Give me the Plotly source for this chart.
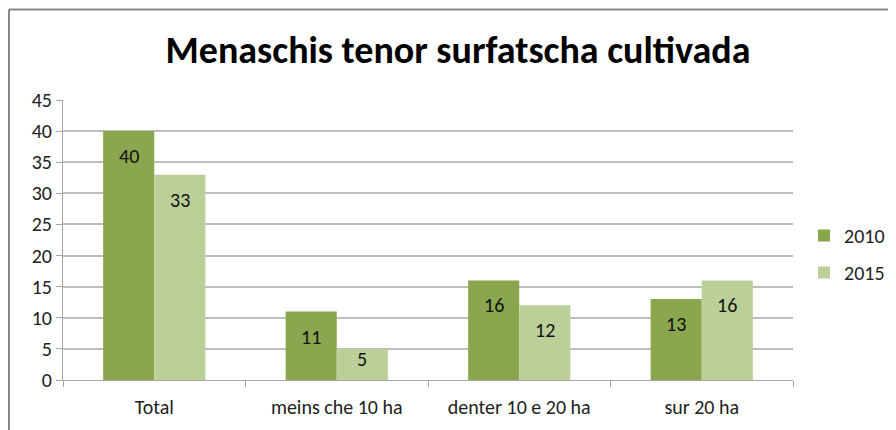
import plotly.graph_objects as go

categories = ["Total", "meins che 10 ha", "denter 10 e 20 ha", "sur 20 ha"]
series_names = ["2010", "2015"]
values_2010 = [40, 11, 16, 13]
values_2015 = [33, 5, 12, 16]
y_ticks = [0, 5, 10, 15, 20, 25, 30, 35, 40, 45]

colors = ["#8AA64F", "#BBD098"]
FONT = "Carlito, Lato, Liberation Sans, sans-serif"

# page body adds an 8px margin, so the figure is sized to the visible area
W, H = 888, 422
L, T = 55, 92
R, B = W - 785, H - 372
PW, PH = W - L - R, H - T - B
YMAX = 45

def px_x(px):
    return (px - L) / PW

def px_y(py):
    return (H - B - py) / PH

fig = go.Figure()
for name, vals, col in zip(series_names, [values_2010, values_2015], colors):
    fig.add_trace(go.Bar(
        x=categories, y=vals, name=name,
        marker=dict(color=col, line=dict(color=col, width=0)),
        legendgroup=name,
    ))

# data labels (inside end, Excel-like)
bar_w = (1 - 0.44) / 2
for i, vals in enumerate([values_2010, values_2015]):
    off = (i - 0.5) * bar_w
    for j, v in enumerate(vals):
        h_px = v * PH / YMAX
        shift = -min(25, h_px - 21)
        fig.add_annotation(
            x=j + off, y=v, xref="x", yref="y", text=str(v),
            showarrow=False, yshift=shift, yanchor="middle",
            font=dict(family=FONT, size=20, color="#111"),
        )

# outer frame (top and left edges)
fig.add_shape(type="line", xref="paper", yref="paper",
              x0=px_x(1), y0=px_y(1.5), x1=px_x(W + 5), y1=px_y(1.5),
              line=dict(color="#878787", width=2))
fig.add_shape(type="line", xref="paper", yref="paper",
              x0=px_x(1), y0=px_y(1.5), x1=px_x(1), y1=px_y(H + 5),
              line=dict(color="#878787", width=2))

fig.update_layout(
    width=W, height=H,
    margin=dict(l=L, r=R, t=T, b=B, autoexpand=False),
    paper_bgcolor="white", plot_bgcolor="white",
    barmode="group", bargap=0.44, bargroupgap=0,
    title=dict(text="<b>Menaschis tenor surfatscha cultivada</b>",
               x=450 / W, xanchor="center", xref="container",
               y=1 - 42 / H, yanchor="middle", yref="container",
               font=dict(family=FONT, size=38, color="#000")),
    font=dict(family=FONT, size=20, color="#222"),
    legend=dict(x=px_x(796), xanchor="left", y=px_y(246), yanchor="middle",
                font=dict(family=FONT, size=20, color="#222"),
                traceorder="grouped", tracegroupgap=8, itemwidth=30,
                bgcolor="rgba(0,0,0,0)"),
    showlegend=True,
)
fig.update_xaxes(
    showline=True, linecolor="#A6A6A6", linewidth=1,
    ticks="outside", tickcolor="#A6A6A6", ticklen=6,
    tickson="boundaries", showgrid=False, ticklabelstandoff=9,
    tickfont=dict(family=FONT, size=20, color="#222"),
)
fig.update_yaxes(
    range=[0, YMAX], tickvals=y_ticks, ticksuffix="\u2009",
    showline=True, linecolor="#A6A6A6", linewidth=1,
    ticks="outside", tickcolor="#A6A6A6", ticklen=6,
    showgrid=True, gridcolor="#BEBEBE", gridwidth=1.5,
    zeroline=False,
    tickfont=dict(family=FONT, size=20, color="#222"),
)

fig.write_html("out.html")
